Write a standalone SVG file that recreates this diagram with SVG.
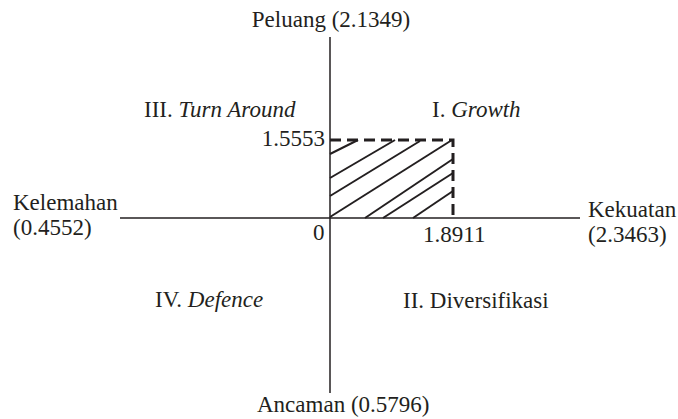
<svg xmlns="http://www.w3.org/2000/svg" width="678" height="419" viewBox="0 0 678 419">
<style>
text{font-family:"Liberation Serif","Times New Roman",serif;font-size:23px;fill:#231f20}
.ax{stroke:#231f20;stroke-width:1.5;fill:none}
.ds{stroke:#231f20;stroke-width:3;stroke-dasharray:11,6;fill:none}
.h{stroke:#231f20;stroke-width:2;fill:none}
</style>
<rect width="678" height="419" fill="#fff"/>
<g id="connectors">
<line class="ax" x1="330" y1="37" x2="330" y2="393"/>
<line class="ax" x1="120" y1="218" x2="580" y2="218"/>
<path class="ds" d="M330,140 H453 V218"/>
<g id="hatch">
<line class="h" x1="330" y1="154" x2="358" y2="140"/>
<line class="h" x1="330" y1="178" x2="395" y2="140"/>
<line class="h" x1="330" y1="196" x2="420" y2="141"/>
<line class="h" x1="330" y1="217" x2="452" y2="140"/>
<line class="h" x1="365" y1="218" x2="453" y2="159"/>
<line class="h" x1="383" y1="218" x2="453" y2="173"/>
<line class="h" x1="413" y1="218" x2="453" y2="191"/>
</g>
</g>
<g id="peluang"><text x="331" y="27" text-anchor="middle">Peluang (2.1349)</text></g>
<g id="ancaman"><text x="257" y="412">Ancaman (0.5796)</text></g>
<g id="kelemahan"><text x="13" y="210">Kelemahan</text><text x="13" y="235">(0.4552)</text></g>
<g id="kekuatan"><text x="588" y="217">Kekuatan</text><text x="588" y="242">(2.3463)</text></g>
<g id="q3"><text x="144" y="117">III. <tspan font-style="italic">Turn Around</tspan></text></g>
<g id="q1"><text x="432" y="117">I. <tspan font-style="italic">Growth</tspan></text></g>
<g id="q4"><text x="155" y="307">IV. <tspan font-style="italic">Defence</tspan></text></g>
<g id="q2"><text x="403" y="308">II. Diversifikasi</text></g>
<g id="v1"><text x="325" y="146" text-anchor="end">1.5553</text></g>
<g id="v0"><text x="313" y="240">0</text></g>
<g id="v2"><text x="423" y="242">1.8911</text></g>
</svg>
